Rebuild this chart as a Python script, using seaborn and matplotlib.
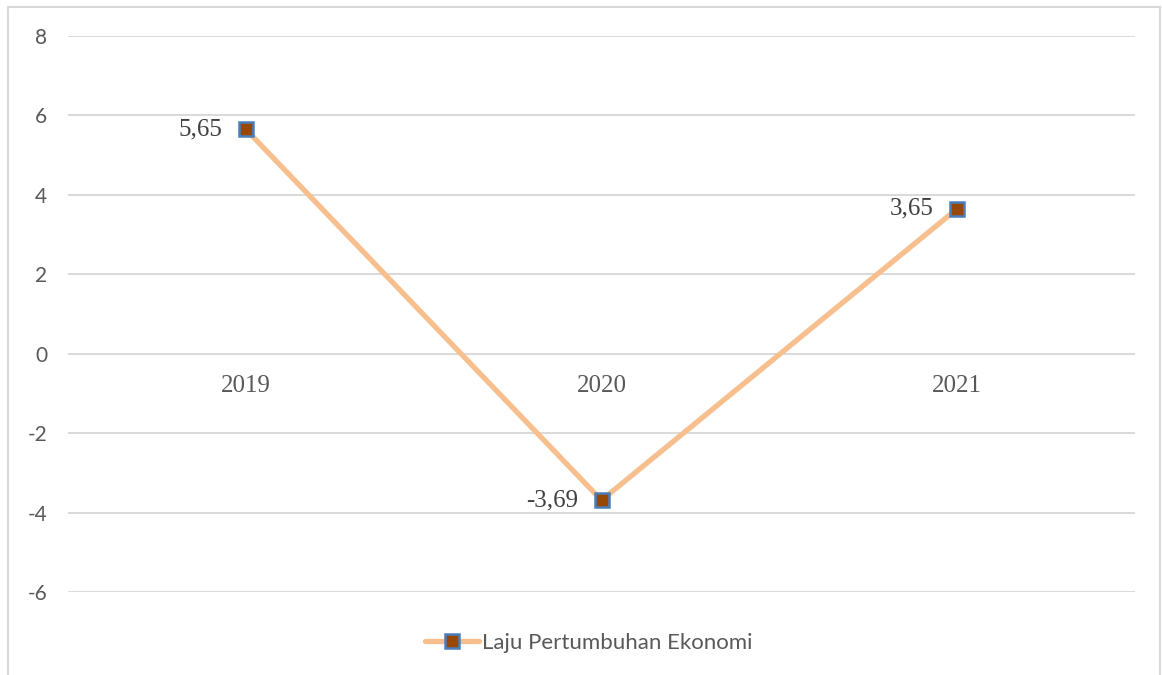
import numpy as np
import pandas as pd
import matplotlib.pyplot as plt
import matplotlib.patches as mpatches
import seaborn as sns

# Data
tahun = ['2019', '2020', '2021']
laju = [5.65, -3.69, 3.65]
label_seri = 'Laju Pertumbuhan Ekonomi'
yticks = [-6, -4, -2, 0, 2, 4, 6, 8]

df = pd.DataFrame({'tahun': tahun, 'laju': laju, 'x': np.arange(len(tahun))})

sns.set_style('white')
plt.rcParams['font.family'] = ['Lato', 'DejaVu Sans']

fig = plt.figure(figsize=(11.62, 6.75), dpi=100)
ax = fig.add_axes([68 / 1162, 1 - 592 / 675, (1135 - 68) / 1162, (592 - 36) / 675])

grid_col = '#D9D9D9'
for t in yticks:
    ax.axhline(t, color=grid_col, lw=1.4, zorder=0)

sns.lineplot(data=df, x='x', y='laju', ax=ax, color='#F8BF8E', lw=3.8,
             marker='s', markersize=10.5, markerfacecolor='#974706',
             markeredgecolor='#4A7EBB', markeredgewidth=1.8, label=label_seri,
             legend=False, zorder=3)

# Data labels
for i, v in enumerate(laju):
    ax.annotate(f'{v:.2f}'.replace('.', ','), (i, v), xytext=(-17, 0),
                textcoords='offset points', ha='right', va='center',
                fontsize=18, family='Liberation Serif', color='#404040')

ax.set_xlim(-0.5, 2.5)
ax.set_ylim(-6, 8)
ax.set_yticks(yticks)
ax.set_yticklabels([str(t) for t in yticks], fontsize=15, color='#595959')
ax.tick_params(axis='y', length=0, pad=15)

# Category labels below zero line
ax.set_xticks([])
for i, t in enumerate(tahun):
    ax.annotate(t, (i, 0), xytext=(0, -23), textcoords='offset points',
                ha='center', va='center', fontsize=18, family='Liberation Serif',
                color='#595959')

ax.set_xlabel('')
ax.set_ylabel('')
for s in ax.spines.values():
    s.set_visible(False)
ax.patch.set_alpha(0)

handles, labels = ax.get_legend_handles_labels()
leg = fig.legend(handles, labels, loc='center', bbox_to_anchor=(589 / 1162, 1 - 643 / 675),
                 frameon=False, fontsize=16, handlelength=2.4, handletextpad=0.15)
for txt in leg.get_texts():
    txt.set_color('#595959')

# Chart border
fig.patches.append(mpatches.Rectangle((8 / 1162, -0.01), (1160 - 8) / 1162, 1.01 - 7 / 675,
                                      transform=fig.transFigure, fill=False,
                                      edgecolor=grid_col, lw=1.5))

fig.savefig('out.png', dpi=100)
